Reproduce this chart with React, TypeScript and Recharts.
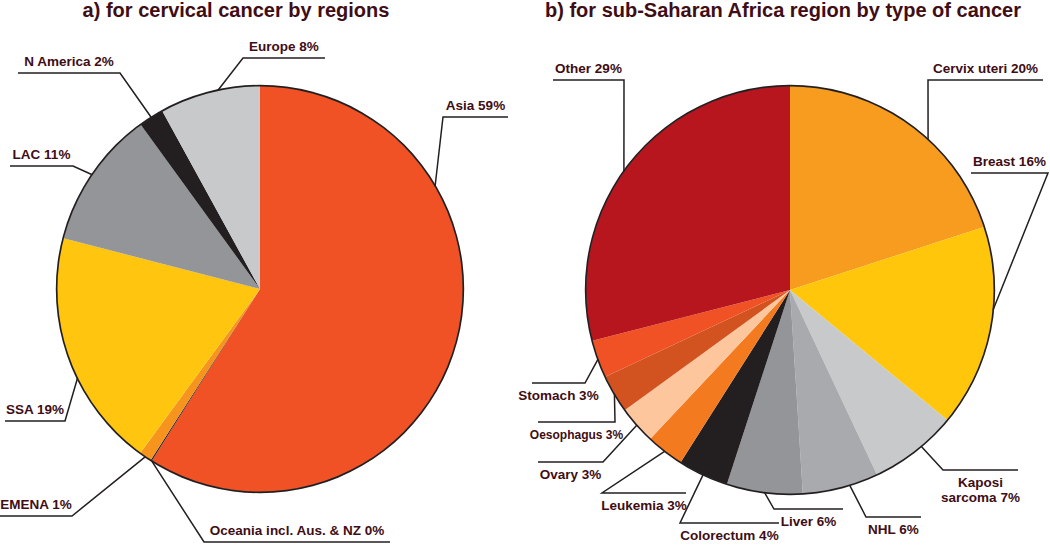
import React from 'react';
import { PieChart, Pie, Cell } from 'recharts';

// a) cervical cancer by region
const regionNames = ['Asia', 'Oceania incl. Aus. & NZ', 'EMENA', 'SSA', 'LAC', 'N America', 'Europe'];
const regionShares = [59, 0.1, 1, 19, 11, 2, 8];
const regionColors = ['#F05125', '#231F20', '#F7941E', '#FFC50F', '#939598', '#231F20', '#C8C9CB'];

// b) sub-Saharan Africa by type of cancer
const cancerNames = ['Cervix uteri', 'Breast', 'Kaposi sarcoma', 'NHL', 'Liver', 'Colorectum', 'Leukemia', 'Ovary', 'Oesophagus', 'Stomach', 'Other'];
const cancerShares = [20, 16, 7, 6, 6, 4, 3, 3, 3, 3, 29];
const cancerColors = ['#F89C1F', '#FFC60B', '#C8C9CB', '#A8AAAD', '#939598', '#231F20', '#F47A20', '#FDC69C', '#D2531F', '#F15225', '#B7161F'];

const TEXT = '#400d14';
const LINE = '#231F20';
const FONT = '"Liberation Sans", Arial, sans-serif';
const R = 203;

// leader line layout, relative to the pie centre:
// a = rim angle (deg clockwise from 12 o'clock, default mid angle), e = elbow, h = end of underline
type LabelLayout = { a?: number; e: [number, number]; h: number; below?: boolean; wrap?: boolean; size?: number };

const regionLayout: LabelLayout[] = [
  { a: 59.6, e: [183, -172], h: 248 },
  { e: [-56, 253], h: 130 },
  { e: [-188, 227], h: -260 },
  { a: 244, e: [-195, 132], h: -255 },
  { e: [-187, -123], h: -250 },
  { e: [-140, -216], h: -242 },
  { a: 348, e: [-17, -231], h: 65 },
];

const cancerLayout: LabelLayout[] = [
  { a: 42.6, e: [138, -210], h: 253 },
  { a: 95.6, e: [258, -117], h: 181 },
  { a: 140, e: [153, 180], h: 228, below: true, wrap: true },
  { a: 163, e: [76, 227], h: 131, below: true },
  { e: [-16, 219], h: 53, below: true },
  { e: [-110, 233], h: -11, below: true },
  { e: [-188, 203], h: -104, below: true },
  { e: [-187, 172], h: -252, below: true },
  { e: [-175, 132], h: -252, below: true, size: 12 },
  { e: [-205, 93], h: -258, below: true },
  { a: 305.5, e: [-166, -210], h: -237 },
];

const regionData = regionNames.map((name, i) => ({ name, value: regionShares[i] }));
const cancerData = cancerNames.map((name, i) => ({ name, value: cancerShares[i] }));
const ring = [{ name: 'outline', value: 1 }];

const makeLabel = (layout: LabelLayout[]) => (props: any) => {
  const { cx, cy, midAngle, outerRadius, index, name, value } = props;
  const l = layout[index];
  const ang = ((l.a ?? 90 - midAngle) * Math.PI) / 180;
  const px = cx + outerRadius * Math.sin(ang);
  const py = cy - outerRadius * Math.cos(ang);
  const ex = cx + l.e[0];
  const ey = cy + l.e[1];
  const hx = cx + l.h;
  const tx = (ex + hx) / 2;
  const pct = `${Math.round(value)}%`;
  const size = l.size ?? 13.5;
  let lines = [`${name} ${pct}`];
  if (l.wrap) {
    const parts = name.split(' ');
    lines = [parts[0], `${parts.slice(1).join(' ')} ${pct}`];
  }
  const y0 = l.below ? ey + 17 : ey - 7;
  return (
    <g key={`lbl-${index}`}>
      <polyline points={`${px},${py} ${ex},${ey} ${hx},${ey}`} fill="none" stroke={LINE} strokeWidth={1.5} />
      {lines.map((t, k) => (
        <text key={k} x={tx} y={y0 + k * 15} textAnchor="middle" fill={TEXT} fontSize={size} fontWeight="bold" fontFamily={FONT}>
          {t}
        </text>
      ))}
    </g>
  );
};

export default function App() {
  return (
    <div style={{ position: 'absolute', left: 0, top: 0, background: '#fff' }}>
      <PieChart width={1050} height={545} margin={{ top: 0, right: 0, bottom: 0, left: 0 }}>
        <text x={236} y={17} textAnchor="middle" fill={TEXT} fontSize={20} fontWeight="bold" fontFamily={FONT}>
          a) for cervical cancer by regions
        </text>
        <text x={783} y={17} textAnchor="middle" fill={TEXT} fontSize={20} fontWeight="bold" fontFamily={FONT}>
          b) for sub-Saharan Africa region by type of cancer
        </text>
        <Pie
          data={regionData}
          dataKey="value"
          nameKey="name"
          cx={260}
          cy={289}
          outerRadius={R}
          startAngle={90}
          endAngle={-270}
          stroke="none"
          labelLine={false}
          label={makeLabel(regionLayout)}
          isAnimationActive={false}
        >
          {regionData.map((d, i) => (
            <Cell key={`r-${i}`} fill={regionColors[i]} />
          ))}
        </Pie>
        <Pie data={ring} dataKey="value" cx={260} cy={289} innerRadius={R - 0.5} outerRadius={R + 1.2} startAngle={90} endAngle={-270} fill={LINE} stroke="none" isAnimationActive={false} />
        <Pie
          data={cancerData}
          dataKey="value"
          nameKey="name"
          cx={790}
          cy={290}
          outerRadius={204}
          startAngle={90}
          endAngle={-270}
          stroke="none"
          labelLine={false}
          label={makeLabel(cancerLayout)}
          isAnimationActive={false}
        >
          {cancerData.map((d, i) => (
            <Cell key={`c-${i}`} fill={cancerColors[i]} />
          ))}
        </Pie>
        <Pie data={ring} dataKey="value" cx={790} cy={290} innerRadius={203.5} outerRadius={205.2} startAngle={90} endAngle={-270} fill={LINE} stroke="none" isAnimationActive={false} />
      </PieChart>
    </div>
  );
}
